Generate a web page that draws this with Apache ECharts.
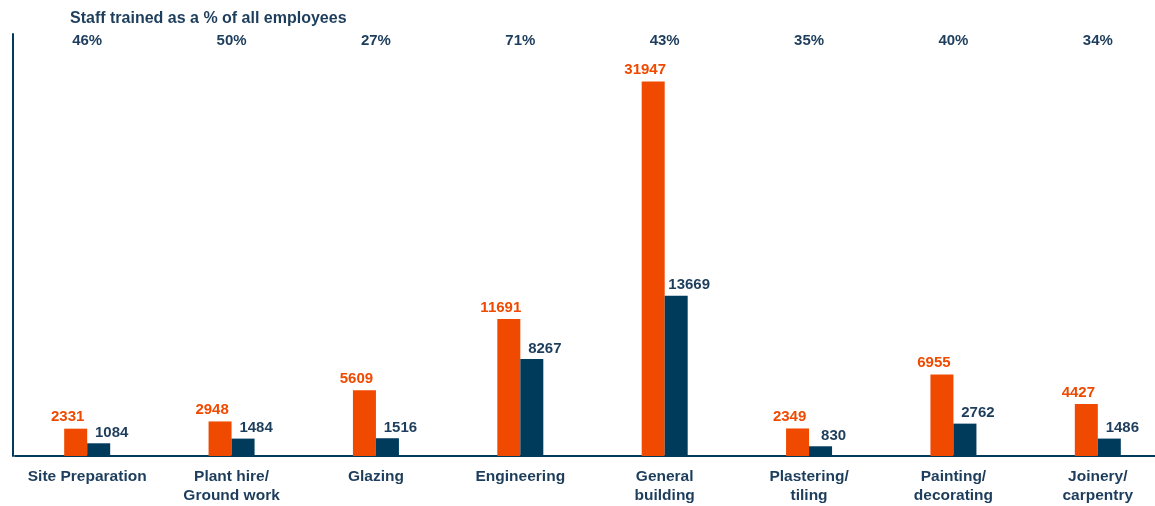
<!DOCTYPE html>
<html>
<head>
<meta charset="utf-8">
<script src="https://cdn.jsdelivr.net/npm/echarts@6/dist/echarts.min.js"></script>
<style>
  html, body { margin: 0; padding: 0; background: #ffffff; overflow: hidden; }
  /* canvas is a little wider than the window so the last group runs to the border */
  #chart { width: 1170px; height: 506px; }
</style>
</head>
<body>
<div id="chart"></div>
<script>
// Trade categories along the bottom axis
const categories = [
  'Site Preparation', 'Plant hire/\nGround work', 'Glazing', 'Engineering',
  'General\nbuilding', 'Plastering/\ntiling', 'Painting/\ndecorating', 'Joinery/\ncarpentry'
];
// Employees per trade (orange) and staff trained (navy)
const employees = [2331, 2948, 5609, 11691, 31947, 2349, 6955, 4427];
const trained = [1084, 1484, 1516, 8267, 13669, 830, 2762, 1486];
// Trained share of all employees, shown across the top
const trainedShare = ['46%', '50%', '27%', '71%', '43%', '35%', '40%', '34%'];

const ORANGE = '#ef4a00';
const NAVY = '#003b5c';
const TEXT = '#1d3d5c';
const FONT = '"Liberation Sans", Arial, Helvetica, sans-serif';

const chart = echarts.init(document.getElementById('chart'));
chart.setOption({
  animation: false,
  title: {
    text: 'Staff trained as a % of all employees',
    left: 65, top: 6,
    textStyle: { color: TEXT, fontSize: 16, fontWeight: 'bold', fontFamily: FONT }
  },
  grid: { left: 15, right: 0, top: 34, bottom: 50 },
  xAxis: [{
    type: 'category',
    data: categories,
    axisLine: { lineStyle: { color: NAVY, width: 2 } },
    axisTick: { show: false },
    axisLabel: {
      color: TEXT, fontSize: 15.5, fontWeight: 'bold', fontFamily: FONT,
      lineHeight: 19, margin: 11, interval: 0
    }
  }, {
    type: 'category',
    position: 'top',
    data: trainedShare,
    axisLine: { show: false },
    axisTick: { show: false },
    axisLabel: {
      color: TEXT, fontSize: 15, fontWeight: 'bold', fontFamily: FONT,
      margin: -14, interval: 0
    }
  }],
  yAxis: {
    type: 'value',
    min: 0, max: 36000,
    offset: 2,
    axisLine: { show: true, lineStyle: { color: NAVY, width: 2 } },
    axisTick: { show: false },
    axisLabel: { show: false },
    splitLine: { show: false }
  },
  series: [{
    type: 'bar',
    data: employees,
    barWidth: 23,
    barGap: '0%',
    itemStyle: { color: ORANGE },
    label: {
      show: true, position: 'top', distance: 4, offset: [-8, 0],
      color: ORANGE, fontSize: 15, fontWeight: 'bold', fontFamily: FONT
    }
  }, {
    type: 'bar',
    data: trained,
    barWidth: 23,
    itemStyle: { color: NAVY },
    label: {
      show: true, position: 'top', distance: 3, offset: [13, 0],
      color: TEXT, fontSize: 15, fontWeight: 'bold', fontFamily: FONT
    }
  }]
});
</script>
</body>
</html>
